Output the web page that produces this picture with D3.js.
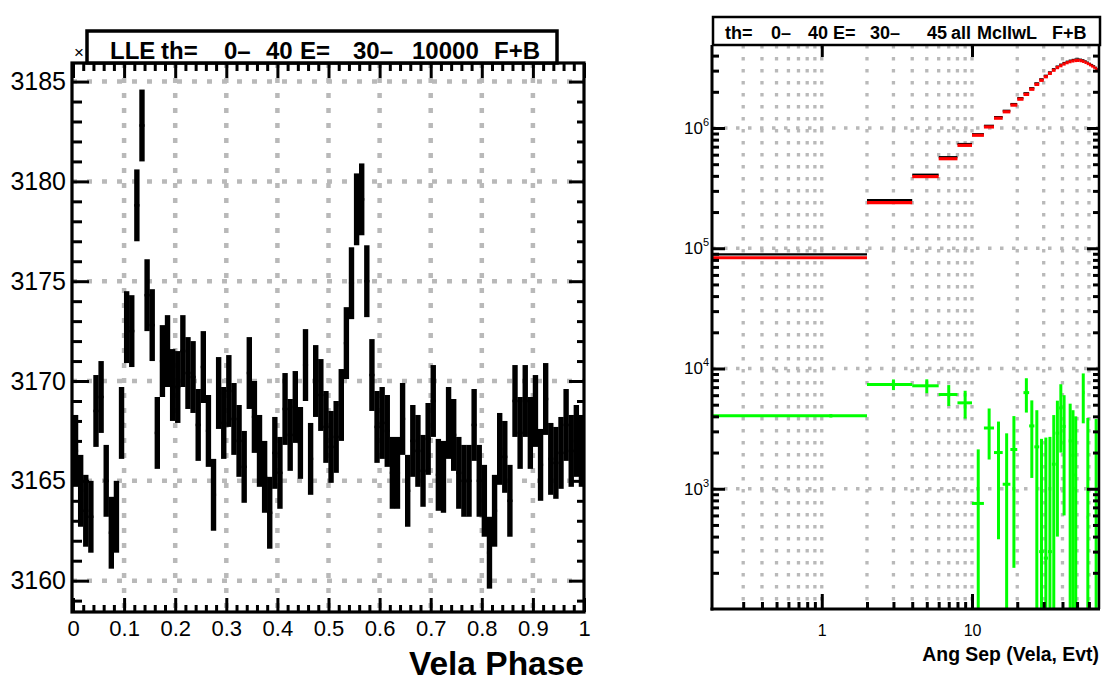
<!DOCTYPE html>
<html><head><meta charset="utf-8">
<script src="https://cdn.jsdelivr.net/npm/d3@7"></script>
<style>
body{margin:0;background:#fff}
text{font-family:"Liberation Sans",Arial,Helvetica,sans-serif}
</style>
</head><body>
<svg id="c" width="1106" height="682"></svg>
<script>
// ---------- Left panel: Vela phase histogram ----------
const phaseCounts = [
3166.5,3164.5,3163.5,3163.2,3168.5,3169.2,3165.0,3162.4,3163.2,3167.9,
3172.7,3172.5,3178.8,3182.8,3174.3,3172.8,3167.4,3171.0,3171.5,3169.8,
3169.7,3171.5,3170.4,3170.2,3167.8,3170.7,3167.5,3164.3,3169.4,3167.9,
3169.5,3168.1,3167.0,3165.7,3170.4,3168.2,3166.5,3165.2,3163.4,3166.4,
3165.4,3168.6,3167.3,3168.7,3166.9,3170.8,3166.1,3170.0,3169.3,3167.7,
3166.7,3167.2,3168.8,3171.9,3174.9,3178.6,3179.1,3175.0,3170.3,3167.7,
3167.9,3167.5,3165.4,3165.4,3168.1,3164.5,3167.0,3166.5,3165.5,3167.1,
3169.0,3165.3,3165.2,3167.9,3167.3,3165.4,3165.0,3165.0,3167.8,3165.0,
3164.0,3161.4,3163.5,3166.6,3166.2,3164.0,3169.0,3167.4,3169.0,3167.4,
3168.5,3165.8,3169.1,3166.1,3165.9,3166.4,3167.8,3166.5,3167.0,3166.5];
const phaseErrors = [
1.8,1.8,1.8,1.8,1.8,1.8,1.8,1.8,1.8,1.8,
1.8,1.8,1.8,1.8,1.8,1.8,1.8,1.8,1.8,1.8,
1.8,1.8,1.8,1.8,1.8,1.8,1.8,1.8,1.8,1.8,
1.8,1.8,1.8,1.8,1.8,1.8,1.8,1.8,1.8,1.8,
1.8,1.8,1.8,1.8,1.8,1.8,1.8,1.8,1.8,1.8,
1.8,1.8,1.8,1.8,1.8,1.8,1.8,1.8,1.8,1.8,
1.8,1.8,1.8,1.8,1.8,1.8,1.8,1.8,1.8,1.8,
1.8,1.8,1.8,1.8,1.8,1.8,1.8,1.8,1.8,1.8,
1.8,1.8,1.8,1.8,1.8,1.8,1.8,1.8,1.8,1.8,
1.8,1.8,1.8,1.8,1.8,1.8,1.8,1.8,1.8,1.8];
const phaseTicks = [0,0.1,0.2,0.3,0.4,0.5,0.6,0.7,0.8,0.9,1];
const phaseTickLabels = ["0","0.1","0.2","0.3","0.4","0.5","0.6","0.7","0.8","0.9","1"];
const countTicks = [3160,3165,3170,3175,3180,3185];
const countTickLabels = ["3160","3165","3170","3175","3180","3185"];
const leftTitleParts = ["LLE","th=","0\u2013","40","E=","30\u2013","10000","F+B"];

// ---------- Right panel: angular separation ----------
const sepBinLow  = [0,2,4,6,8,10,12,14,16,18,20,22,24,26,28,30,32,34,36,38,40,42,44,46,48,50,52,54,56,58,60,62,64,66,68];
const sepBinHigh = [2,4,6,8,10,12,14,16,18,20,22,24,26,28,30,32,34,36,38,40,42,44,46,48,50,52,54,56,58,60,62,64,66,68,70];
const sepMarkX   = [1.15,3,5,7,9,11,13,15,17,19,21,23,25,27,29,31,33,35,37,39,41,43,45,47,49,51,53,55,57,59,61,63,65,67,69];
const bkgValues = [8.5e4,2.44e5,4.02e5,5.66e5,7.31e5,8.87e5,1.04e6,1.23e6,1.39e6,1.58e6,
  1.77e6,1.94e6,2.14e6,2.35e6,2.54e6,2.72e6,2.90e6,3.08e6,3.24e6,3.36e6,
  3.47e6,3.56e6,3.63e6,3.68e6,3.71e6,3.72e6,3.70e6,3.65e6,3.58e6,3.50e6,
  3.42e6,3.34e6,3.26e6,3.17e6,3.08e6];
const totalValues = [8.9e4,2.51e5,4.09e5,5.72e5,7.36e5,8.88e5,1.043e6,1.232e6,1.391e6,1.582e6,
  1.77e6,1.946e6,2.143e6,2.352e6,2.54e6,2.72e6,2.90e6,3.082e6,3.243e6,3.365e6,
  3.473e6,3.56e6,3.632e6,3.682e6,3.711e6,3.72e6,3.70e6,3.656e6,3.58e6,3.50e6,
  3.42e6,3.34e6,3.26e6,3.171e6,3.08e6];
const signalValues = [4040,7360,7180,6080,5180,755,3200,2000,1090,2120,
  null,6300,3330,2230,300,265,300,1600,2900,4700,
  3300,null,2500,1900,1300,null,null,6300,null,580,
  null,null,null,1000,null];
const signalErrors = [130,750,950,1200,1350,1370,1450,1620,1800,1900,
  null,2000,2100,2270,2300,2400,2400,2500,2500,2700,
  2700,null,2600,2600,2700,null,null,2800,null,3300,
  null,null,null,2800,null];
const sepLabelTicks = [1,10];
const sepLabels = ["1","10"];
const sepMinorTicks = [0.3,0.4,0.5,0.6,0.7,0.8,0.9,2,3,4,5,6,7,8,9,20,30,40,50,60];
const decadeTicks = [1e3,1e4,1e5,1e6];
const decadeExps = ["3","4","5","6"];
const rightTitleParts = ["th=","0\u2013","40","E=","30\u2013","45","all","McIlwL","F+B"];

const svg = d3.select("#c");
svg.append("rect").attr("width",1106).attr("height",682).attr("fill","#fff");

// ====== LEFT PANEL ======
const L = {x0:72, x1:584, y0:63, y1:612};
const xL = d3.scaleLinear().domain([0,1]).range([73,584]);
const yL = d3.scaleLinear().domain([3158.43,3185.93]).range([L.y1,L.y0]);

const gridL = svg.append("g").attr("stroke","#b9b9b9").attr("stroke-width",4.5).attr("stroke-dasharray","5 10");
gridL.selectAll("line.v").data(phaseTicks.slice(1,-1)).join("line")
  .attr("x1",d=>xL(d)).attr("x2",d=>xL(d)).attr("y1",L.y0).attr("y2",L.y1);
gridL.selectAll("line.h").data(countTicks).join("line")
  .attr("x1",L.x0).attr("x2",L.x1).attr("y1",d=>yL(d)).attr("y2",d=>yL(d));

const binW = 0.01;
const dataL = phaseCounts.map((v,i)=>({lo:i*binW, hi:(i+1)*binW, v, e:phaseErrors[i]}));
const gL = svg.append("g");
gL.selectAll("line.err").data(dataL).join("line")
  .attr("x1",d=>xL((d.lo+d.hi)/2)).attr("x2",d=>xL((d.lo+d.hi)/2))
  .attr("y1",d=>yL(d.v-d.e)).attr("y2",d=>yL(d.v+d.e))
  .attr("stroke","#000").attr("stroke-width",5.4);
gL.selectAll("line.bw").data(dataL).join("line")
  .attr("x1",d=>xL(d.lo)).attr("x2",d=>xL(d.hi))
  .attr("y1",d=>yL(d.v)).attr("y2",d=>yL(d.v))
  .attr("stroke","#000").attr("stroke-width",2.5);

function styleAxis(g, fs){
  g.select(".domain").remove();
  g.selectAll(".tick line").attr("stroke","#000").attr("stroke-width",3);
  g.selectAll("text").attr("fill","#000").attr("font-size",fs).attr("font-family","'Liberation Sans',Arial,sans-serif");
}
const minorCounts = d3.range(3159,3186,1).filter(v=>countTicks.indexOf(v)<0);
const minorPhase = d3.range(0,1.0001,0.02).map(v=>+v.toFixed(2)).filter(v=>Math.abs(v*10-Math.round(v*10))>1e-6);

svg.append("g").attr("transform",`translate(${L.x0},0)`)
  .call(d3.axisLeft(yL).tickValues(countTicks).tickSize(-17).tickPadding(6).tickFormat((d,i)=>countTickLabels[i]))
  .call(g=>styleAxis(g,25));
svg.append("g").attr("transform",`translate(${L.x0},0)`)
  .call(d3.axisLeft(yL).tickValues(minorCounts).tickSize(-10).tickFormat(""))
  .call(g=>styleAxis(g,10));
svg.append("g").attr("transform",`translate(${L.x1},0)`)
  .call(d3.axisRight(yL).tickValues(countTicks).tickSize(-15).tickFormat(""))
  .call(g=>styleAxis(g,10));
svg.append("g").attr("transform",`translate(${L.x1},0)`)
  .call(d3.axisRight(yL).tickValues(minorCounts).tickSize(-7).tickFormat(""))
  .call(g=>styleAxis(g,10));
svg.append("g").attr("transform",`translate(0,${L.y1})`)
  .call(d3.axisBottom(xL).tickValues(phaseTicks).tickSize(-14).tickPadding(8).tickFormat((d,i)=>phaseTickLabels[i]))
  .call(g=>styleAxis(g,22));
svg.append("g").attr("transform",`translate(0,${L.y1})`)
  .call(d3.axisBottom(xL).tickValues(minorPhase).tickSize(-7).tickFormat(""))
  .call(g=>styleAxis(g,10));
svg.append("g").attr("transform",`translate(0,${L.y0})`)
  .call(d3.axisTop(xL).tickValues(phaseTicks).tickSize(-15).tickFormat(""))
  .call(g=>styleAxis(g,10));
svg.append("g").attr("transform",`translate(0,${L.y0})`)
  .call(d3.axisTop(xL).tickValues(minorPhase).tickSize(-8).tickFormat(""))
  .call(g=>styleAxis(g,10));

svg.append("rect").attr("x",L.x0).attr("y",L.y0).attr("width",L.x1-L.x0).attr("height",L.y1-L.y0)
  .attr("fill","none").attr("stroke","#000").attr("stroke-width",3.2);

svg.append("text").attr("x",74).attr("y",58).attr("font-size",17).text("\u00d7");
svg.append("rect").attr("x",87).attr("y",31).attr("width",470).attr("height",32)
  .attr("fill","#fff").attr("stroke","#000").attr("stroke-width",3.5);
const leftTitleX = [110,161,224,266,300,353,412,494];
svg.append("g").selectAll("text").data(leftTitleParts).join("text")
  .attr("x",(d,i)=>leftTitleX[i]).attr("y",59).attr("font-size",24).attr("font-weight","bold").text(d=>d);

svg.append("text").attr("x",584).attr("y",675).attr("text-anchor","end")
  .attr("font-size",33.5).attr("font-weight","bold").text("Vela Phase");

// ====== RIGHT PANEL ======
const R = {x0:712, x1:1099, y0:45, y1:609};
const xR = d3.scaleLog().domain([0.186,70]).range([R.x0,R.x1]).clamp(true);
const yR = d3.scaleLog().domain([100,4.9e6]).range([R.y1,R.y0]).clamp(true);

const gridR = svg.append("g").attr("stroke","#b9b9b9").attr("stroke-width",3.3).attr("stroke-dasharray","3.5 8.5");
gridR.selectAll("line.v").data(sepMinorTicks.concat(sepLabelTicks)).join("line")
  .attr("x1",d=>xR(d)).attr("x2",d=>xR(d)).attr("y1",R.y0).attr("y2",R.y1);
gridR.selectAll("line.h").data(decadeTicks).join("line")
  .attr("x1",R.x0).attr("x2",R.x1).attr("y1",d=>yR(d)).attr("y2",d=>yR(d));

svg.append("defs").append("clipPath").attr("id","clipR").append("rect")
  .attr("x",R.x0).attr("y",R.y0).attr("width",R.x1-R.x0).attr("height",R.y1-R.y0);
const gR = svg.append("g").attr("clip-path","url(#clipR)");

const sepData = sepBinLow.map((lo,i)=>({lo, hi:sepBinHigh[i], xm:sepMarkX[i], b:bkgValues[i], t:totalValues[i], s:signalValues[i], e:signalErrors[i]}));
gR.selectAll("line.tot").data(sepData).join("line")
  .attr("x1",d=>xR(d.lo)).attr("x2",d=>xR(d.hi)).attr("y1",d=>yR(d.t)).attr("y2",d=>yR(d.t))
  .attr("stroke","#000").attr("stroke-width",2.2);
gR.selectAll("line.bkg").data(sepData).join("line")
  .attr("x1",d=>xR(d.lo)).attr("x2",d=>xR(d.hi)).attr("y1",d=>yR(d.b)+1).attr("y2",d=>yR(d.b)+1)
  .attr("stroke","#ff0000").attr("stroke-width",3.2);

const sig = sepData.filter(d=>d.s!==null);
gR.selectAll("line.sv").data(sig).join("line")
  .attr("x1",d=>xR(d.xm)).attr("x2",d=>xR(d.xm))
  .attr("y1",d=>d.s-d.e>0?yR(d.s-d.e):R.y1+5).attr("y2",d=>yR(d.s+d.e))
  .attr("stroke","#00ff00").attr("stroke-width",3);
gR.selectAll("line.sh").data(sig).join("line")
  .attr("x1",d=>xR(d.lo)).attr("x2",d=>xR(d.hi)).attr("y1",d=>yR(d.s)).attr("y2",d=>yR(d.s))
  .attr("stroke","#00ff00").attr("stroke-width",3);

const minorDecades = [];
[100,1e3,1e4,1e5,1e6].forEach(dec=>[2,3,4,5,6,7,8,9].forEach(m=>{const v=dec*m; if(v<4.9e6) minorDecades.push(v);}));

svg.append("g").attr("transform",`translate(${R.x0},0)`)
  .call(d3.axisLeft(yR).tickValues(decadeTicks).tickSize(-13).tickFormat(""))
  .call(g=>styleAxis(g,10));
svg.append("g").attr("transform",`translate(${R.x0},0)`)
  .call(d3.axisLeft(yR).tickValues(minorDecades).tickSize(-7).tickFormat(""))
  .call(g=>styleAxis(g,10));
svg.append("g").attr("transform",`translate(${R.x1},0)`)
  .call(d3.axisRight(yR).tickValues(decadeTicks).tickSize(-12).tickFormat(""))
  .call(g=>styleAxis(g,10));
svg.append("g").attr("transform",`translate(${R.x1},0)`)
  .call(d3.axisRight(yR).tickValues(minorDecades).tickSize(-6).tickFormat(""))
  .call(g=>styleAxis(g,10));
svg.append("g").attr("transform",`translate(0,${R.y1})`)
  .call(d3.axisBottom(xR).tickValues(sepLabelTicks).tickSize(-15).tickPadding(16).tickFormat((d,i)=>sepLabels[i]))
  .call(g=>styleAxis(g,16));
svg.append("g").attr("transform",`translate(0,${R.y1})`)
  .call(d3.axisBottom(xR).tickValues(sepMinorTicks).tickSize(-7).tickFormat(""))
  .call(g=>styleAxis(g,10));
svg.append("g").attr("transform",`translate(0,${R.y0})`)
  .call(d3.axisTop(xR).tickValues(sepLabelTicks).tickSize(-12).tickFormat(""))
  .call(g=>styleAxis(g,10));

// y labels with exponent
const yLab = svg.append("g").selectAll("text").data(decadeTicks).join("text")
  .attr("x",709).attr("y",d=>yR(d)+6).attr("text-anchor","end").attr("font-size",17);
yLab.append("tspan").text("10");
yLab.append("tspan").attr("font-size",11).attr("dy",-8).text((d,i)=>decadeExps[i]);

svg.append("line").attr("x1",R.x0).attr("x2",R.x0).attr("y1",R.y0).attr("y2",R.y1+1.5).attr("stroke","#000").attr("stroke-width",3);
svg.append("line").attr("x1",R.x0-1.5).attr("x2",R.x1+1).attr("y1",R.y1).attr("y2",R.y1).attr("stroke","#000").attr("stroke-width",3);
svg.append("line").attr("x1",R.x1).attr("x2",R.x1).attr("y1",R.y0).attr("y2",R.y1).attr("stroke","#000").attr("stroke-width",2.5);

svg.append("rect").attr("x",713).attr("y",17).attr("width",387).attr("height",28)
  .attr("fill","#fff").attr("stroke","#000").attr("stroke-width",2.5);
const rightTitleX = [725,771,808,833,870,927,951,977,1052];
svg.append("g").selectAll("text").data(rightTitleParts).join("text")
  .attr("x",(d,i)=>rightTitleX[i]).attr("y",39).attr("font-size",18).attr("font-weight","bold").text(d=>d);

svg.append("text").attr("x",1099).attr("y",661).attr("text-anchor","end")
  .attr("font-size",19.4).attr("font-weight","bold").text("Ang Sep (Vela, Evt)");
</script>
</body></html>
